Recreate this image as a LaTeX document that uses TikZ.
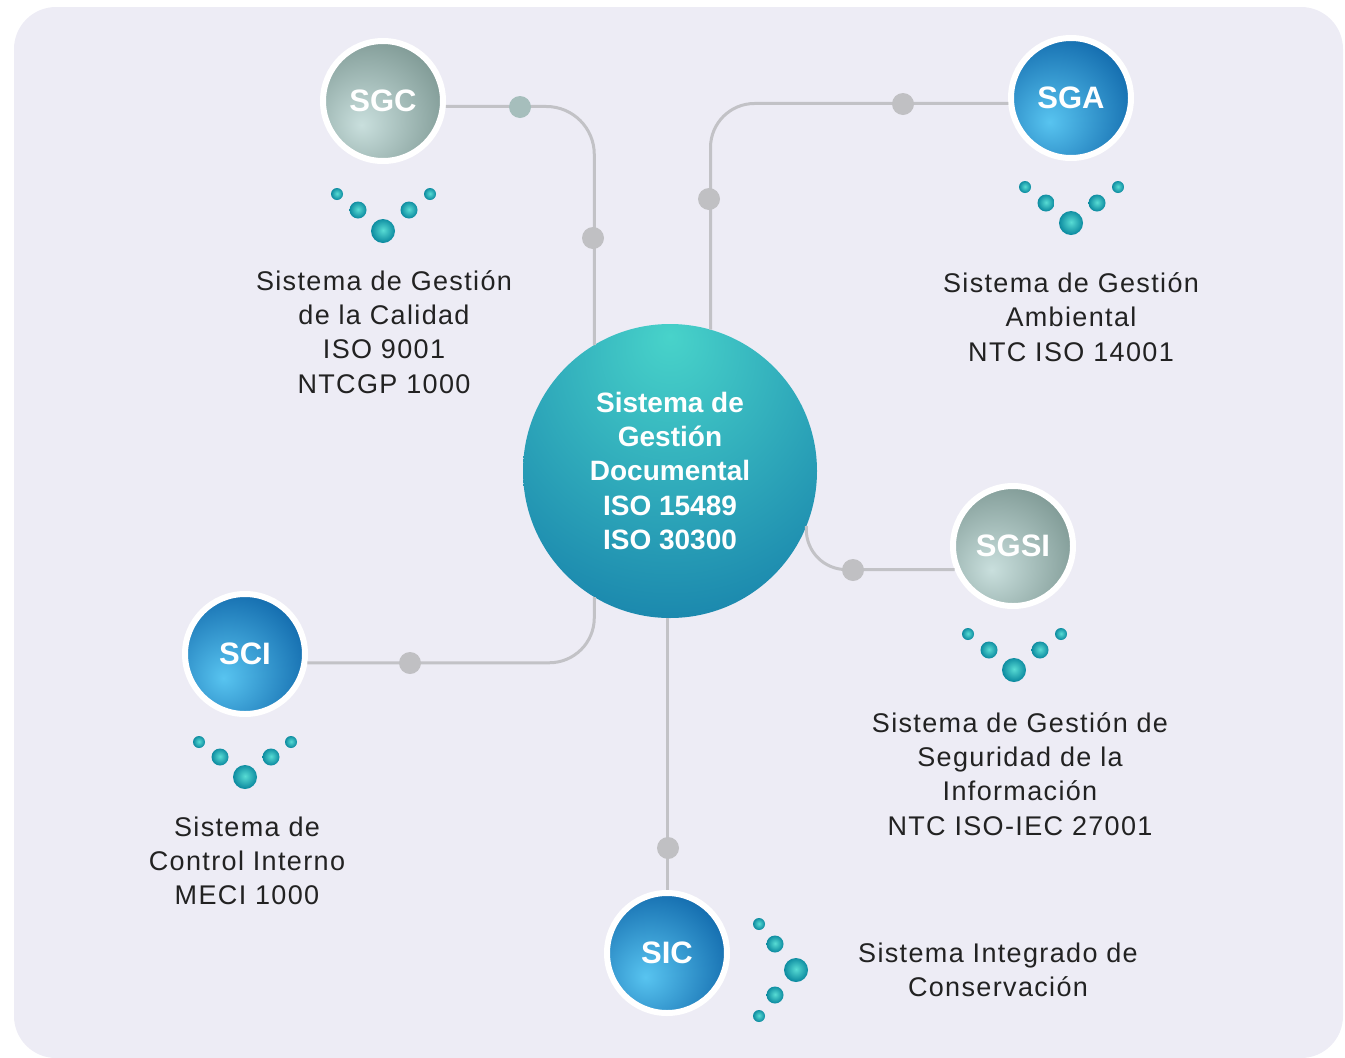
\documentclass[tikz,border=0pt]{standalone}
\usepackage{fontspec}
\setmainfont{Liberation Sans}
\newfontfamily\labelfont[LetterSpace=5]{Liberation Sans}
\definecolor{bgc}{HTML}{EDECF5}
\definecolor{connc}{HTML}{C2C2C6}
\definecolor{dotc}{HTML}{C0C0C3}
\definecolor{dotg}{HTML}{A6BEBC}
\definecolor{gLight}{HTML}{C9DFDD}
\definecolor{gDark}{HTML}{738E89}
\definecolor{uLight}{HTML}{58C4F0}
\definecolor{uDark}{HTML}{075CA2}
\definecolor{bLight}{HTML}{58DCD4}
\definecolor{bDark}{HTML}{0A889E}
\definecolor{dTop}{HTML}{48D3CA}
\definecolor{dBot}{HTML}{0F74A6}
\definecolor{txt}{HTML}{222222}
\pgfdeclareradialshading{greenball}{\pgfpoint{-9bp}{-10bp}}{color(0bp)=(gLight); color(40bp)=(gDark); color(100bp)=(gDark)}
\pgfdeclareradialshading{blueball}{\pgfpoint{-9bp}{-10bp}}{color(0bp)=(uLight); color(40bp)=(uDark); color(100bp)=(uDark)}
\pgfdeclareradialshading{bubble}{\pgfpoint{0bp}{2bp}}{color(0bp)=(bLight); color(26bp)=(bDark); color(100bp)=(bDark)}
\pgfdeclareradialshading{docshade}{\pgfpoint{0bp}{23bp}}{color(0bp)=(dTop); color(50bp)=(dBot); color(100bp)=(dBot)}
\begin{document}
\begin{tikzpicture}[x=1pt,y=-1pt,
  conn/.style={draw=connc, line width=3pt},
  jdot/.style={circle, fill=dotc, minimum size=22pt, inner sep=0pt},
  bubS/.style={circle, shade, shading=bubble, minimum size=12pt, inner sep=0pt},
  bubM/.style={circle, shade, shading=bubble, minimum size=17pt, inner sep=0pt},
  bubL/.style={circle, shade, shading=bubble, minimum size=24pt, inner sep=0pt},
  ball/.style={circle, shade, draw=white, line width=6pt, minimum size=120pt, inner sep=0pt,
     text=white, font=\bfseries\fontsize{31}{31}\selectfont},
  gball/.style={ball, shading=greenball},
  uball/.style={ball, shading=blueball},
  lbl/.style={align=center, text=txt, font=\labelfont\fontsize{27}{34.3}\selectfont},
]
\useasboundingbox (0,0) rectangle (1345,1058);
\fill[bgc, rounded corners=42pt] (14,7) rectangle (1343,1058);

% main nodes
\node[circle, shade, shading=docshade, minimum size=294pt, inner sep=0pt, outer sep=0pt] (doc) at (670,471) {};
\node[align=center, text=white, font=\bfseries\fontsize{28}{34.3}\selectfont] (doct) at (670,471)
  {Sistema de\\Gestión\\Documental\\ISO 15489\\ISO 30300};

\node[gball] (sgc) at (383,101) {SGC};
\node[uball] (sga) at (1071,98) {SGA};
\node[gball] (sgsi) at (1013,546) {SGSI};
\node[uball] (sci) at (245,654) {SCI};
\node[uball] (sic) at (667,953) {SIC};

% connectors
\draw[conn, rounded corners=48pt] (sgc.-5) -| (doc.121.6);
\draw[conn, rounded corners=44pt] (doc.74.6) |- (sga.185);
\draw[conn, rounded corners=40pt] (doc.-22.3) |- (sgsi.202.4);
\draw[conn, rounded corners=45pt] (doc.239.3) |- (sci.-8.2);
\draw[conn] (sic.north |- doc.south) -- (sic.north);

% junction dots
\node[jdot, fill=dotg] (j1) at (520,107) {};
\node[jdot] (j2) at (593,238) {};
\node[jdot] (j3) at (709,199) {};
\node[jdot] (j4) at (903,104) {};
\node[jdot] (j5) at (853,570) {};
\node[jdot] (j6) at (410,663) {};
\node[jdot] (j7) at (668,848) {};

% bubble groups
\node[bubS] (a1) at (337,194) {};
\node[bubM] (a2) at (358,210) {};
\node[bubL] (a3) at (383,231) {};
\node[bubM] (a4) at (409,210) {};
\node[bubS] (a5) at (430,194) {};

\node[bubS] (b1) at (1025,187) {};
\node[bubM] (b2) at (1046,203) {};
\node[bubL] (b3) at (1071,223) {};
\node[bubM] (b4) at (1097,203) {};
\node[bubS] (b5) at (1118,187) {};

\node[bubS] (c1) at (968,634) {};
\node[bubM] (c2) at (989,650) {};
\node[bubL] (c3) at (1014,670) {};
\node[bubM] (c4) at (1040,650) {};
\node[bubS] (c5) at (1061,634) {};

\node[bubS] (d1) at (199,742) {};
\node[bubM] (d2) at (220,757) {};
\node[bubL] (d3) at (245,777) {};
\node[bubM] (d4) at (271,757) {};
\node[bubS] (d5) at (291,742) {};

\node[bubS] (e1) at (759,924) {};
\node[bubM] (e2) at (775,944) {};
\node[bubL] (e3) at (796,970) {};
\node[bubM] (e4) at (775,995) {};
\node[bubS] (e5) at (759,1016) {};

% labels
\node[lbl] (l1) at (384,332) {Sistema de Gestión\\de la Calidad\\ISO 9001\\NTCGP 1000};
\node[lbl] (l2) at (1071,317) {Sistema de Gestión\\Ambiental\\NTC ISO 14001};
\node[lbl] (l3) at (1020,774) {Sistema de Gestión de\\Seguridad de la\\Información\\NTC ISO-IEC 27001};
\node[lbl] (l4) at (247,861) {Sistema de\\Control Interno\\MECI 1000};
\node[lbl] (l5) at (998,970) {Sistema Integrado de\\Conservación};
\end{tikzpicture}
\end{document}
